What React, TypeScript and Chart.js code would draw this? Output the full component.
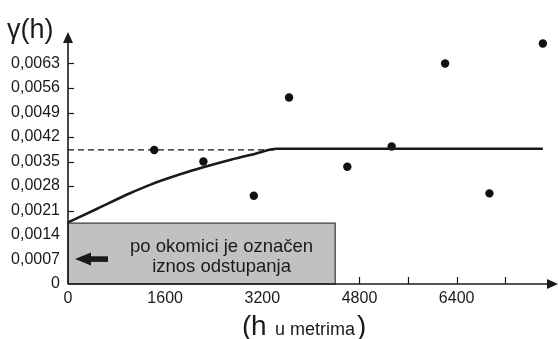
import React, { useEffect, useRef } from "react";
import { Chart, registerables } from "chart.js";

Chart.register(...registerables);

// Experimental semivariogram points (lag h in metres, gamma)
const lagH = [1420, 2230, 3060, 3640, 4600, 5330, 6210, 6940, 7820];
const gammaVals = [0.00383, 0.0035, 0.00252, 0.00533, 0.00335, 0.00393, 0.0063, 0.00259, 0.00687];

// Fitted model curve
const modelH = [0, 480, 1030, 1360, 1860, 2240, 2680, 3060, 3440, 7820];
const modelG = [0.00176, 0.00215, 0.0026, 0.00284, 0.00314, 0.00334, 0.00355, 0.00371, 0.003866, 0.003866];

// Dashed reference level
const dashH = [0, 3400];
const dashG = [0.00383, 0.00383];

// Axis ticks
const xTickValues = [0, 800, 1600, 2400, 3200, 4000, 4800, 5600, 6400, 7200];
const xTickLabels = ["0", "", "1600", "", "3200", "", "4800", "", "6400", ""];
const yTickValues = [0, 0.0007, 0.0014, 0.0021, 0.0028, 0.0035, 0.0042, 0.0049, 0.0056, 0.0063];
const yTickLabels = ["0", "0,0007", "0,0014", "0,0021", "0,0028", "0,0035", "0,0042", "0,0049", "0,0056", "0,0063"];

const boxMaxH = 4400;
const boxTopG = 0.00174;
const boxLines = ["po okomici je označen", "iznos odstupanja"];
const yTitle = "γ(h)";

const FONT = '"Liberation Sans", Arial, Helvetica, sans-serif';

export default function App() {
  const ref = useRef<HTMLCanvasElement | null>(null);

  useEffect(() => {
    const canvas = ref.current;
    if (!canvas) return;

    const decor = {
      id: "decor",
      afterDraw(chart: any) {
        const ctx = chart.ctx;
        const xs = chart.scales.x;
        const ys = chart.scales.y;
        const { left, bottom } = chart.chartArea;
        ctx.save();
        ctx.strokeStyle = "#1a1a1a";
        ctx.fillStyle = "#1a1a1a";
        ctx.lineWidth = 1.2;
        // tick marks (inward)
        xTickValues.forEach((v) => {
          if (v === 0) return;
          const px = Math.round(xs.getPixelForValue(v)) + 0.5;
          ctx.beginPath();
          ctx.moveTo(px, bottom);
          ctx.lineTo(px, bottom - 7);
          ctx.stroke();
        });
        yTickValues.forEach((v) => {
          if (v === 0) return;
          const py = Math.round(ys.getPixelForValue(v)) + 0.5;
          ctx.beginPath();
          ctx.moveTo(left, py);
          ctx.lineTo(left + 6, py);
          ctx.stroke();
        });
        // grey box
        const bx0 = xs.getPixelForValue(0);
        const bx1 = xs.getPixelForValue(boxMaxH);
        const by0 = ys.getPixelForValue(boxTopG);
        const by1 = ys.getPixelForValue(0);
        ctx.fillStyle = "#c1c1c3";
        ctx.fillRect(bx0, by0, bx1 - bx0, by1 - by0);
        ctx.strokeStyle = "#3a3a3a";
        ctx.lineWidth = 1.2;
        ctx.strokeRect(bx0, by0, bx1 - bx0, by1 - by0);
        // box text
        ctx.fillStyle = "#1a1a1a";
        ctx.font = `18.5px ${FONT}`;
        ctx.textAlign = "center";
        ctx.textBaseline = "alphabetic";
        const cx = (bx0 + bx1) / 2 + 20;
        ctx.fillText(boxLines[0], cx, by0 + 29);
        ctx.fillText(boxLines[1], cx, by0 + 49);
        // arrow in box
        const ay = by0 + 36;
        ctx.beginPath();
        ctx.moveTo(bx0 + 7, ay);
        ctx.lineTo(bx0 + 23, ay - 6.5);
        ctx.lineTo(bx0 + 23, ay + 6.5);
        ctx.closePath();
        ctx.fill();
        ctx.fillRect(bx0 + 22, ay - 2.8, 18, 5.6);
        // axes lines
        ctx.strokeStyle = "#1a1a1a";
        ctx.lineWidth = 1.6;
        ctx.beginPath();
        ctx.moveTo(left, bottom);
        ctx.lineTo(chart.width - 6, bottom);
        ctx.stroke();
        ctx.beginPath();
        ctx.moveTo(left, bottom);
        ctx.lineTo(left, 40);
        ctx.stroke();
        // arrow heads
        ctx.fillStyle = "#1a1a1a";
        ctx.beginPath();
        ctx.moveTo(558, bottom);
        ctx.lineTo(547, bottom - 5);
        ctx.lineTo(547, bottom + 5);
        ctx.closePath();
        ctx.fill();
        ctx.beginPath();
        ctx.moveTo(left, 32);
        ctx.lineTo(left - 5, 43);
        ctx.lineTo(left + 5, 43);
        ctx.closePath();
        ctx.fill();
        // titles
        ctx.textAlign = "left";
        ctx.font = `27px ${FONT}`;
        ctx.fillText(yTitle, 7, 38);
        ctx.font = `28px ${FONT}`;
        ctx.fillText("(", 242, 335);
        ctx.fillText("h", 251, 335);
        ctx.font = `18px ${FONT}`;
        ctx.fillText("u metrima", 275, 335);
        ctx.font = `28px ${FONT}`;
        ctx.fillText(")", 357, 335);
        ctx.restore();
      },
    };

    const chart = new Chart(canvas, {
      type: "scatter",
      data: {
        datasets: [
          {
            data: dashH.map((h, i) => ({ x: h, y: dashG[i] })),
            showLine: true,
            borderColor: "#111",
            borderWidth: 1.3,
            borderDash: [6, 4],
            pointRadius: 0,
          },
          {
            data: modelH.map((h, i) => ({ x: h, y: modelG[i] })),
            showLine: true,
            borderColor: "#1a1a1a",
            borderWidth: 2.6,
            pointRadius: 0,
            cubicInterpolationMode: "monotone",
          },
          {
            data: lagH.map((h, i) => ({ x: h, y: gammaVals[i] })),
            showLine: false,
            backgroundColor: "#111",
            borderColor: "#111",
            pointRadius: 4.2,
            pointBorderWidth: 0,
          },
        ],
      },
      options: {
        responsive: false,
        animation: false,
        devicePixelRatio: 1,
        layout: { padding: { top: 39, right: 4, left: 0, bottom: 0 } },
        plugins: { legend: { display: false }, tooltip: { enabled: false } },
        scales: {
          x: {
            type: "linear",
            min: 0,
            max: 8000,
            grid: { display: false, drawTicks: false },
            border: { display: false },
            afterBuildTicks: (s: any) => {
              s.ticks = xTickValues.map((v) => ({ value: v }));
            },
            afterFit: (s: any) => {
              s.height = 55;
            },
            ticks: {
              autoSkip: false,
              maxRotation: 0,
              padding: 5,
              color: "#1a1a1a",
              font: { family: FONT, size: 16 },
              callback: (v: any) => {
                const i = xTickValues.indexOf(Number(v));
                return i >= 0 ? xTickLabels[i] : "";
              },
            },
          },
          y: {
            type: "linear",
            min: 0,
            max: 0.007,
            grid: { display: false, drawTicks: false },
            border: { display: false },
            afterBuildTicks: (s: any) => {
              s.ticks = yTickValues.map((v) => ({ value: v }));
            },
            afterFit: (s: any) => {
              s.width = 68;
            },
            ticks: {
              autoSkip: false,
              padding: 8,
              color: "#1a1a1a",
              font: { family: FONT, size: 16 },
              callback: (v: any) => {
                const i = yTickValues.findIndex((t) => Math.abs(t - Number(v)) < 1e-9);
                return i >= 0 ? yTickLabels[i] : "";
              },
            },
          },
        },
      },
      plugins: [decor],
    } as any);

    return () => chart.destroy();
  }, []);

  return (
    <div style={{ position: "absolute", left: 0, top: 0, width: 558, height: 339, background: "#fff" }}>
      <canvas ref={ref} width={558} height={339} style={{ display: "block" }} />
    </div>
  );
}
